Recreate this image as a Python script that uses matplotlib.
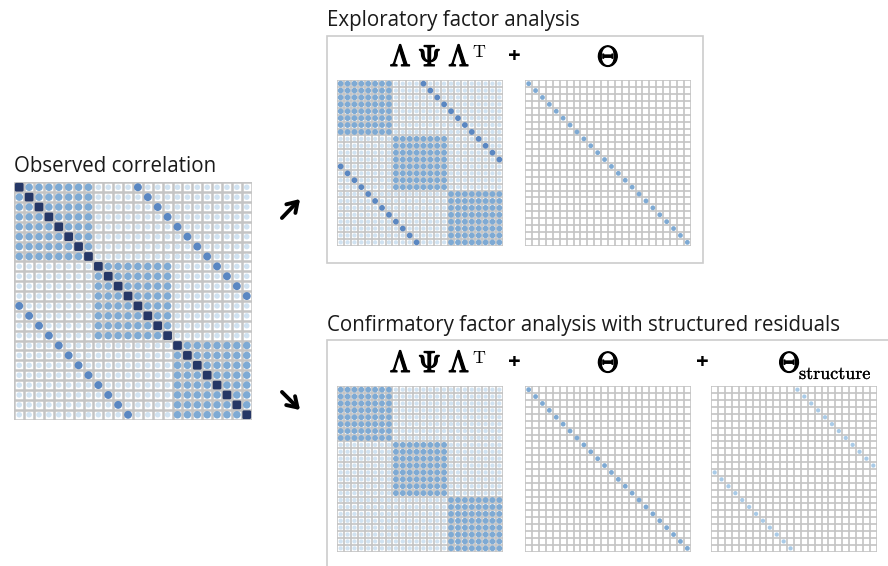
import matplotlib
matplotlib.use('Agg')
import matplotlib.pyplot as plt
import matplotlib.patheffects as pe
import numpy as np
from matplotlib.patches import FancyBboxPatch, Rectangle, FancyArrowPatch

plt.rcParams['font.family'] = ['Open Sans', 'DejaVu Sans']
plt.rcParams['mathtext.fontset'] = 'cm'

W, H = 888, 566

# ---- data: 24 items, three factors of 8 items, residuals paired 12 apart
factor_of_item = [0, 0, 0, 0, 0, 0, 0, 0,
                  1, 1, 1, 1, 1, 1, 1, 1,
                  2, 2, 2, 2, 2, 2, 2, 2]
residual_rows = [0, 1, 2, 3, 4, 5, 6, 7, 8, 9, 10, 11]
residual_cols = [12, 13, 14, 15, 16, 17, 18, 19, 20, 21, 22, 23]

# correlation levels shown in each matrix
observed_levels = {'diag': 1.0, 'within': 0.55, 'residual': 0.65, 'between': 0.15}
efa_levels = {'diag': 0.55, 'within': 0.55, 'residual': 0.65, 'between': 0.15}
cfa_levels = {'diag': 0.55, 'within': 0.55, 'residual': 0.15, 'between': 0.15}
theta_levels = {'diag': 0.45}
structure_levels = {'residual': 0.30}

n = len(factor_of_item)


def build(levels):
    m = np.zeros((n, n))
    for i in range(n):
        for j in range(n):
            if i == j:
                m[i, j] = levels.get('diag', 0)
            elif factor_of_item[i] == factor_of_item[j]:
                m[i, j] = levels.get('within', 0)
            else:
                m[i, j] = levels.get('between', 0)
    for r, c in zip(residual_rows, residual_cols):
        if 'residual' in levels:
            m[r, c] = m[c, r] = levels['residual']
    return m


def colour(v):
    if v >= 0.9:
        return '#263766'
    if v >= 0.6:
        return '#5a87c2'
    if v >= 0.4:
        return '#7eaad4'
    if v >= 0.25:
        return '#a9cbe8'
    return '#d0e2f1'


def diam(v, big):
    # diameter as a fraction of one cell
    if v >= 0.9:
        return 0.88
    if v >= 0.6:
        return 0.80 if big else 0.84
    if v >= 0.5:
        return 0.76 if big else 0.84
    if v >= 0.4:
        return 0.70
    if v >= 0.25:
        return 0.62
    return 0.56 if big else 0.62


def px_axes(x0, y0, x1, y1):
    return fig.add_axes([x0 / W, 1 - y1 / H, (x1 - x0) / W, (y1 - y0) / H])


def draw_matrix(box, m, big=False):
    x0, y0, x1, y1 = box
    ax = px_axes(x0, y0, x1, y1)
    ax.set_xlim(-0.03, n + 0.03)
    ax.set_ylim(n + 0.03, -0.03)
    ax.axis('off')
    cell_px = (x1 - x0) / n
    lw = 1.8 if big else 1.2
    ax.add_patch(Rectangle((0, 0), n, n, facecolor='white', edgecolor='none', zorder=0))
    for k in range(n + 1):
        ax.plot([k, k], [0, n], color='#c4c4c4', lw=lw, zorder=1, solid_capstyle='butt')
        ax.plot([0, n], [k, k], color='#c4c4c4', lw=lw, zorder=1, solid_capstyle='butt')
    xs, ys, ss, cs = [], [], [], []
    for i in range(n):
        for j in range(n):
            v = m[i, j]
            if v <= 0:
                continue
            if v >= 0.9:
                d = diam(v, big)
                ax.add_patch(FancyBboxPatch((j + 0.5 - d / 2 + 0.15, i + 0.5 - d / 2 + 0.15),
                                            d - 0.3, d - 0.3,
                                            boxstyle='round,pad=0.15',
                                            facecolor=colour(v), edgecolor='none', zorder=3))
                continue
            d_pt = diam(v, big) * cell_px * 72 / 100
            xs.append(j + 0.5)
            ys.append(i + 0.5)
            ss.append(d_pt ** 2)
            cs.append(colour(v))
    ax.scatter(xs, ys, s=ss, c=cs, linewidths=0, zorder=2)
    return ax


fig = plt.figure(figsize=(W / 100, H / 100), dpi=100)

title_kw = dict(fontsize=14.8, ha='left', va='baseline', color='#1a1a1a')

# observed correlation
fig.text(14 / W, 1 - 172 / H, 'Observed correlation', **title_kw)
draw_matrix((14, 182, 252, 420), build(observed_levels), big=True)

# arrows
for start, end in (((280, 220), (302, 197)), ((280, 390), (302, 412))):
    fig.patches.append(FancyArrowPatch(
        (start[0] / W, 1 - start[1] / H), (end[0] / W, 1 - end[1] / H),
        transform=fig.transFigure, arrowstyle='->,head_length=7,head_width=4.5',
        lw=2.8, color='black'))

# frames
fig.patches.append(Rectangle((327 / W, 1 - 263 / H), (703 - 327) / W, (263 - 36) / H,
                             transform=fig.transFigure, facecolor='none',
                             edgecolor='#cccccc', lw=1.2))
fig.patches.append(Rectangle((327 / W, -0.05), (900 - 327) / W, 0.05 + (566 - 340) / H,
                             transform=fig.transFigure, facecolor='none',
                             edgecolor='#cccccc', lw=1.2))

fig.text(327 / W, 1 - 26 / H, 'Exploratory factor analysis', **title_kw)
fig.text(327 / W, 1 - 331 / H, 'Confirmatory factor analysis with structured residuals',
         **title_kw)

# bold look for the Computer Modern greek letters
bold = [pe.withStroke(linewidth=0.9, foreground='black')]
lam = r'$\Lambda\;\Psi\;\Lambda$'
theta = r'$\Theta$'
for ytop in (57, 363):
    base = ytop + 9
    fig.text(470 / W, 1 - base / H, lam, fontsize=21.5, ha='right', va='baseline',
             path_effects=bold)
    fig.text(472 / W, 1 - (base - 9) / H, r'$\mathrm{T}$', fontsize=13, ha='left',
             va='baseline')
    fig.text(514 / W, 1 - ytop / H, '+', fontsize=16, ha='center', va='center',
             fontweight='bold')
    fig.text(608 / W, 1 - base / H, theta, fontsize=20.5, ha='center', va='baseline',
             path_effects=bold)
fig.text(702 / W, 1 - 363 / H, '+', fontsize=16, ha='center', va='center', fontweight='bold')
fig.text(778 / W, 1 - 372 / H, theta, fontsize=20.5, ha='left', va='baseline',
         path_effects=bold)
fig.text(799 / W, 1 - 379 / H, r'$\mathrm{structure}$', fontsize=13, ha='left',
         va='baseline', path_effects=[pe.withStroke(linewidth=0.2, foreground='black')])

# EFA
draw_matrix((337, 80, 503, 246), build(efa_levels))
draw_matrix((525, 80, 691, 246), build(theta_levels))
# CFA with structured residuals
draw_matrix((337, 386, 503, 552), build(cfa_levels))
draw_matrix((525, 386, 691, 552), build(theta_levels))
draw_matrix((711, 386, 877, 552), build(structure_levels))

fig.savefig('out.png', dpi=100)
